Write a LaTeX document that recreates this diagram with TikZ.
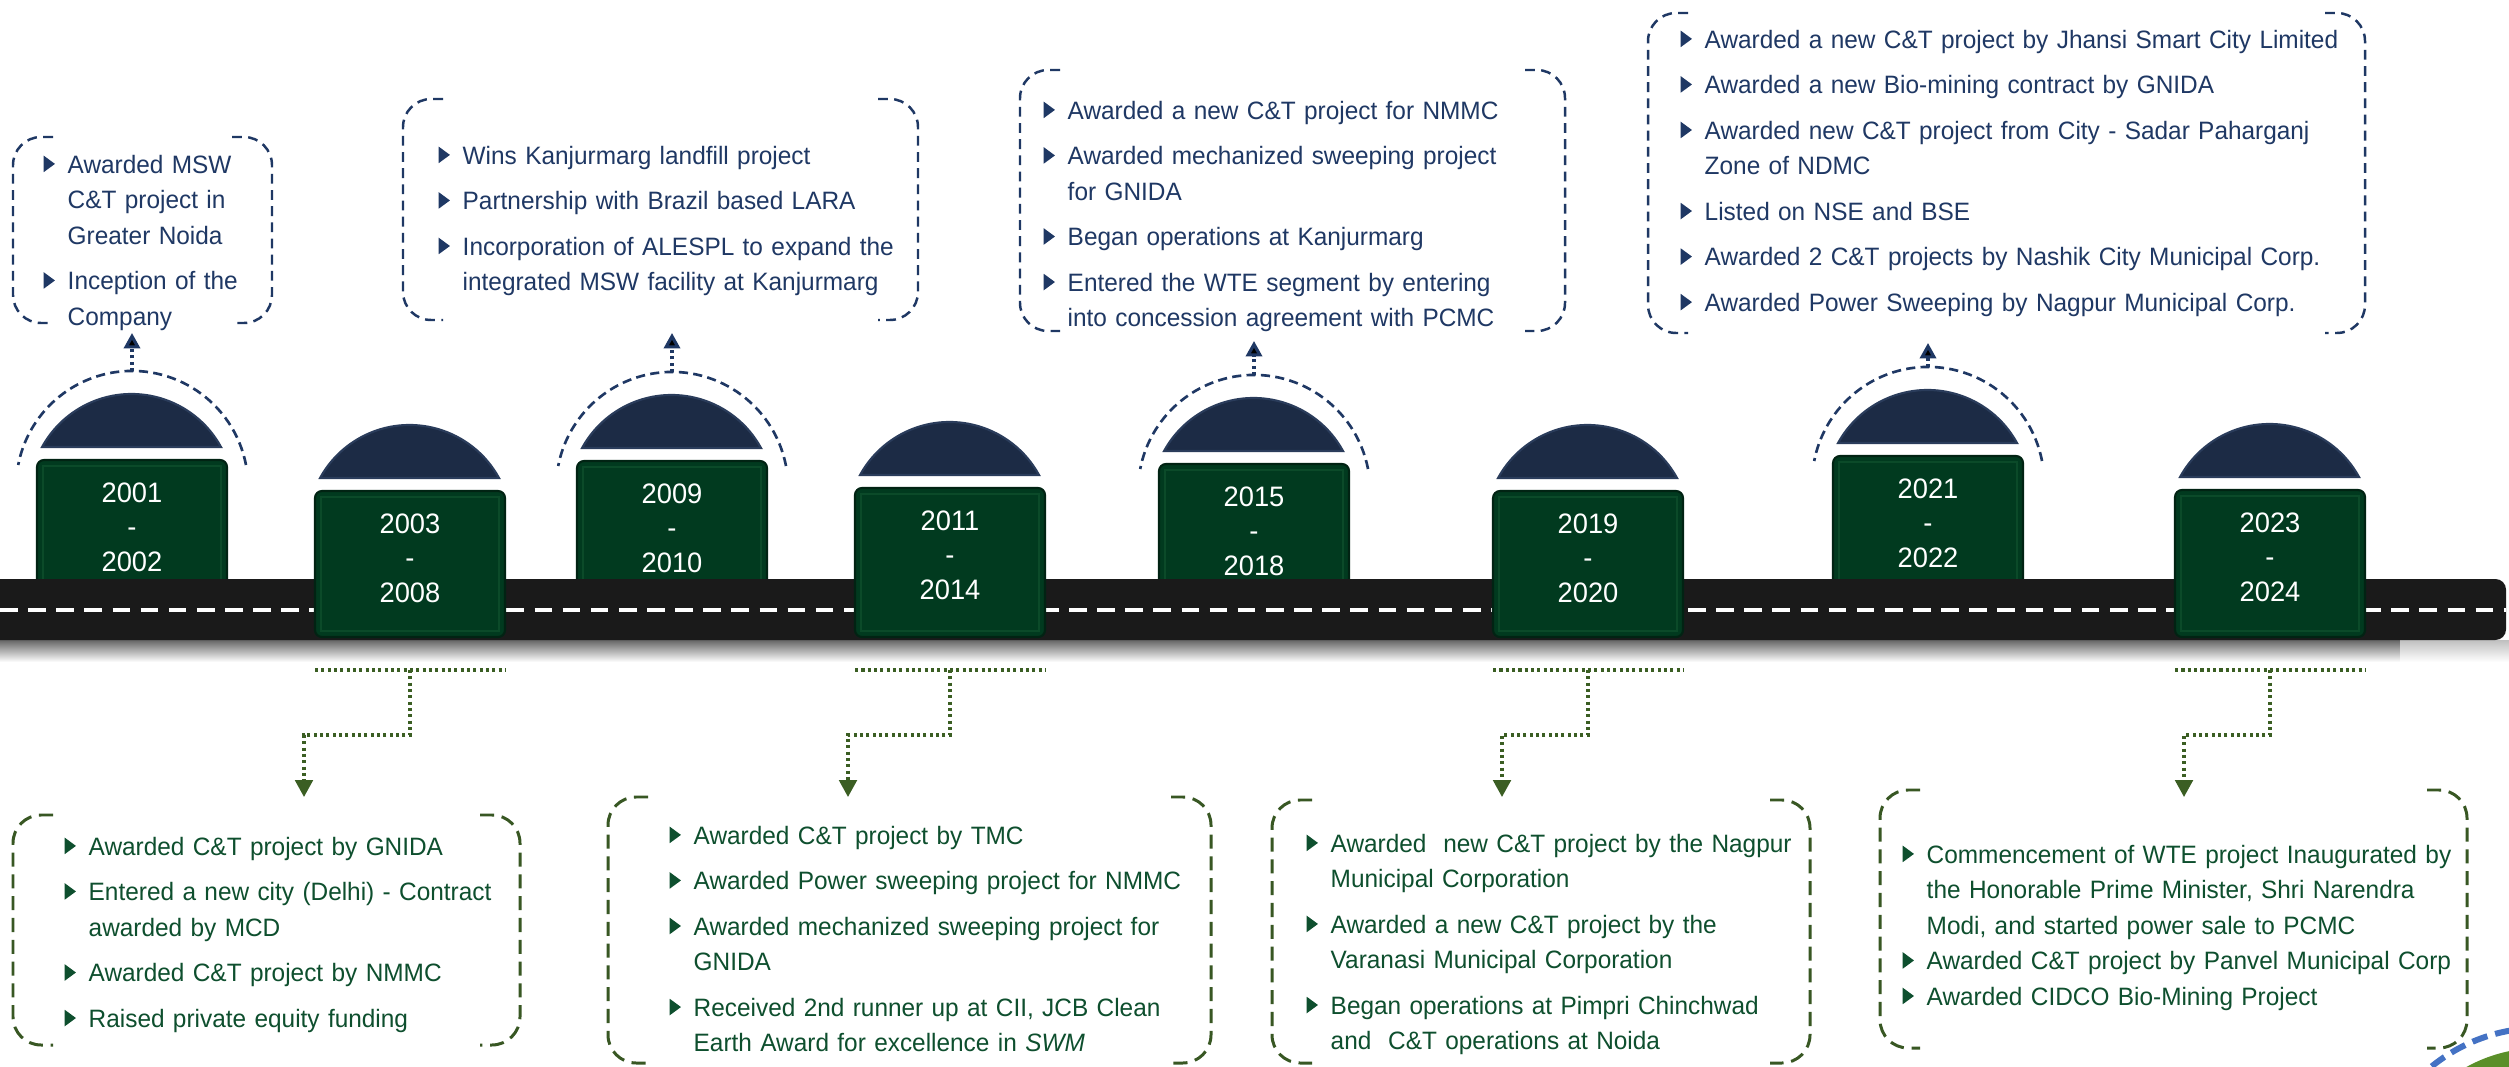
\documentclass[tikz,border=0pt]{standalone}
\usepackage{fontspec}
\setmainfont{Liberation Sans}[FakeStretch=0.97]
\usetikzlibrary{arrows.meta}
\definecolor{navyT}{HTML}{1F3864}
\definecolor{navyL}{HTML}{1F3864}
\definecolor{greenT}{HTML}{0E4F2E}
\definecolor{greenL}{HTML}{385723}
\definecolor{greenC}{HTML}{3B5E23}
\definecolor{greenBox}{HTML}{013A1F}
\definecolor{greenInner}{HTML}{0B4A29}
\definecolor{domeC}{HTML}{1C2B45}
\definecolor{domeEdge}{HTML}{2A3C5B}
\definecolor{roadC}{HTML}{1A1A1A}
\definecolor{logoGreen}{HTML}{5A8F29}
\definecolor{logoBlue}{HTML}{4472C4}
\newcommand\btri[1]{\tikz[baseline=0pt]\fill[#1] (0pt,0.3pt) -- (0pt,5.0pt) -- (3.2pt,2.65pt) -- cycle;}
\newcommand\bitem[2]{\par\noindent\hangindent=6.83pt\hangafter=1\strut\makebox[6.83pt][l]{\btri{#1}}\begingroup\let\\\newline#2\endgroup\par}
\newcommand\nb[1]{\bitem{navyT}{#1}}
\newcommand\gb[1]{\bitem{greenT}{#1}}
\newcommand\bgap{\vspace{2.85pt}}
\tikzset{
  ttext/.style={anchor=north west, inner sep=0pt, text width=7.5cm, font=\fontsize{7.15pt}{10.1pt}\selectfont},
  navytxt/.style={ttext, text=navyT},
  greentxt/.style={ttext, text=greenT},
  yr/.style={inner sep=0pt, align=center, text=white, font=\fontsize{8pt}{9.8pt}\selectfont},
  gbox/.style={fill=greenBox, draw=black!40!greenBox, line width=0.6pt, rounded corners=2pt},
  ginner/.style={draw=greenInner, line width=0.7pt},
  domest/.style={fill=domeC, draw=domeEdge, line width=0.6pt},
  halo/.style={draw=navyL, line width=0.75pt, dash pattern=on 2.6pt off 1.5pt},
  navybr/.style={draw=navyL, line width=0.7pt, dash pattern=on 2.8pt off 1.8pt, rounded corners=8pt},
  greenbr/.style={draw=greenL, line width=0.85pt, dash pattern=on 4pt off 2.2pt, rounded corners=8pt},
  navyconn/.style={draw=navyL, line width=0.9pt, dash pattern=on 0.9pt off 0.9pt, -{Triangle[width=4.6pt,length=4.4pt]}},
  greenline/.style={draw=greenC, line width=0.9pt, dash pattern=on 0.9pt off 0.9pt},
  greenconn/.style={greenline, -{Triangle[width=5pt,length=4.8pt]}}
}
% bracket box: style, x1, y1, x2, y2
\newcommand\brk[5]{%
  \draw[#1] (#2+40,#3) -- (#2,#3) -- (#2,#5) -- (#2+40,#5);
  \draw[#1] (#4-40,#3) -- (#4,#3) -- (#4,#5) -- (#4-40,#5);}
% milestone: name, cx, T, bottom, year1, year2
\newcommand\mstone[6]{%
  \path[gbox] (#2-95,#3) rectangle (#2+95,#4);
  \draw[ginner] (#2-89,#3+6) rectangle (#2+89,#4-6);
  \path[domest] (#2+89,#3-13) arc[start angle=-28.7, end angle=-151.3, radius=102] -- cycle;
  \node[yr] (#1) at (#2,#3+67) {#5\\-\\#6};}
% halo for upward milestones: name, cx, T
\newcommand\halo[3]{%
  \draw[halo] (#2+114,#3+5) arc[start angle=-10.9, end angle=-169.1, radius=116];
  \coordinate (#1-arc) at (#2,#3-89);}
% downward connector: name, cx, arrow x
\newcommand\dconn[3]{%
  \coordinate (#1-l) at (#2-95,670);
  \coordinate (#1-r) at (#2+95,670);
  \coordinate (#1-t) at (#2,670);
  \coordinate (#1-tip) at (#3,797);
  \draw[greenline] (#1-l) -- (#1-r);
  \draw[greenconn] (#1-t) -- ++(0,65) -| (#1-tip);}
\begin{document}
\begin{tikzpicture}[x=0.01cm, y=-0.01cm]
\useasboundingbox (0,0) rectangle (2509,1067);
\fill[white] (0,0) rectangle (2509,1067);
% upward milestones (behind the road)
\mstone{m1}{132}{460}{600}{2001}{2002}
\halo{m1}{132}{460}
\mstone{m3}{672}{461}{600}{2009}{2010}
\halo{m3}{672}{461}
\mstone{m5}{1254}{464}{600}{2015}{2018}
\halo{m5}{1254}{464}
\mstone{m7}{1928}{456}{600}{2021}{2022}
\halo{m7}{1928}{456}
% road
\shade[top color=black!60, bottom color=white] (0,640) rectangle (2400,662);
\shade[top color=black!25, bottom color=white] (2400,640) rectangle (2509,662);
\fill[roadC, rounded corners=3pt] (-20,579) rectangle (2506,640);
\draw[white, line width=1.1pt, dash pattern=on 5pt off 3pt] (0,610) -- (2506,610);
% downward milestones (over the road)
\mstone{m2}{410}{491}{637}{2003}{2008}
\mstone{m4}{950}{488}{637}{2011}{2014}
\mstone{m6}{1588}{491}{637}{2019}{2020}
\mstone{m8}{2270}{490}{637}{2023}{2024}
% top boxes
\brk{navybr}{13}{137}{272}{323}
\node[navytxt] (ta) at (43,137) {\nb{Awarded MSW\\C\&T project in\\Greater Noida}\bgap\nb{Inception of the\\Company}};
\brk{navybr}{403}{99}{918}{320}
\node[navytxt] (tb) at (438,128) {\nb{Wins Kanjurmarg landfill project}\bgap\nb{Partnership with Brazil based LARA}\bgap\nb{Incorporation of ALESPL to expand the\\integrated MSW facility at Kanjurmarg}};
\brk{navybr}{1020}{70}{1565}{331}
\node[navytxt] (tc) at (1043,83) {\nb{Awarded a new C\&T project for NMMC}\bgap\nb{Awarded mechanized sweeping project\\for GNIDA}\bgap\nb{Began operations at Kanjurmarg}\bgap\nb{Entered the WTE segment by entering\\into concession agreement with PCMC}};
\brk{navybr}{1648}{13}{2365}{333}
\node[navytxt] (td) at (1680,12) {\nb{Awarded a new C\&T project by Jhansi Smart City Limited}\bgap\nb{Awarded a new Bio-mining contract by GNIDA}\bgap\nb{Awarded new C\&T project from City - Sadar Paharganj\\Zone of NDMC}\bgap\nb{Listed on NSE and BSE}\bgap\nb{Awarded 2 C\&T projects by Nashik City Municipal Corp.}\bgap\nb{Awarded Power Sweeping by Nagpur Municipal Corp.}};
% top connectors
\coordinate (ta-tip) at (132,333);
\coordinate (tb-tip) at (672,333);
\coordinate (tc-tip) at (1254,341);
\coordinate (td-tip) at (1928,343);
\draw[navyconn] (m1-arc) -- (ta-tip);
\draw[navyconn] (m3-arc) -- (tb-tip);
\draw[navyconn] (m5-arc) -- (tc-tip);
\draw[navyconn] (m7-arc) -- (td-tip);
% bottom connectors
\dconn{be}{410}{304}
\dconn{bf}{950}{848}
\dconn{bg}{1588}{1502}
\dconn{bh}{2270}{2184}
% bottom boxes
\brk{greenbr}{13}{815}{520}{1045}
\node[greentxt] (be) at (64,819) {\gb{Awarded C\&T project by GNIDA}\bgap\gb{Entered a new city (Delhi) - Contract\\awarded by MCD}\bgap\gb{Awarded C\&T project by NMMC}\bgap\gb{Raised private equity funding}};
\brk{greenbr}{608}{797}{1211}{1063}
\node[greentxt] (bf) at (669,808) {\gb{Awarded C\&T project by TMC}\bgap\gb{Awarded Power sweeping project for NMMC}\bgap\gb{Awarded mechanized sweeping project for\\GNIDA}\bgap\gb{Received 2nd runner up at CII, JCB Clean\\Earth Award for excellence in \textit{SWM}}};
\brk{greenbr}{1272}{800}{1810}{1063}
\node[greentxt] (bg) at (1306,816) {\gb{Awarded\ \ new C\&T project by the Nagpur\\Municipal Corporation}\bgap\gb{Awarded a new C\&T project by the\\Varanasi Municipal Corporation}\bgap\gb{Began operations at Pimpri Chinchwad\\and\ \ C\&T operations at Noida}};
\brk{greenbr}{1880}{790}{2467}{1048}
\node[greentxt] (bh) at (1902,827) {\gb{Commencement of WTE project Inaugurated by\\the Honorable Prime Minister, Shri Narendra\\Modi, and started power sale to PCMC}\gb{Awarded C\&T project by Panvel Municipal Corp}\gb{Awarded CIDCO Bio-Mining Project}};
% partial logo at the bottom right corner
\begin{scope}
\clip (0,0) rectangle (2509,1067);
\fill[logoGreen] (2540,1200) circle[radius=152];
\draw[logoBlue, line width=1.7pt, dash pattern=on 4.5pt off 2.3pt] (2540,1200) circle[radius=172];
\end{scope}
\end{tikzpicture}
\end{document}
